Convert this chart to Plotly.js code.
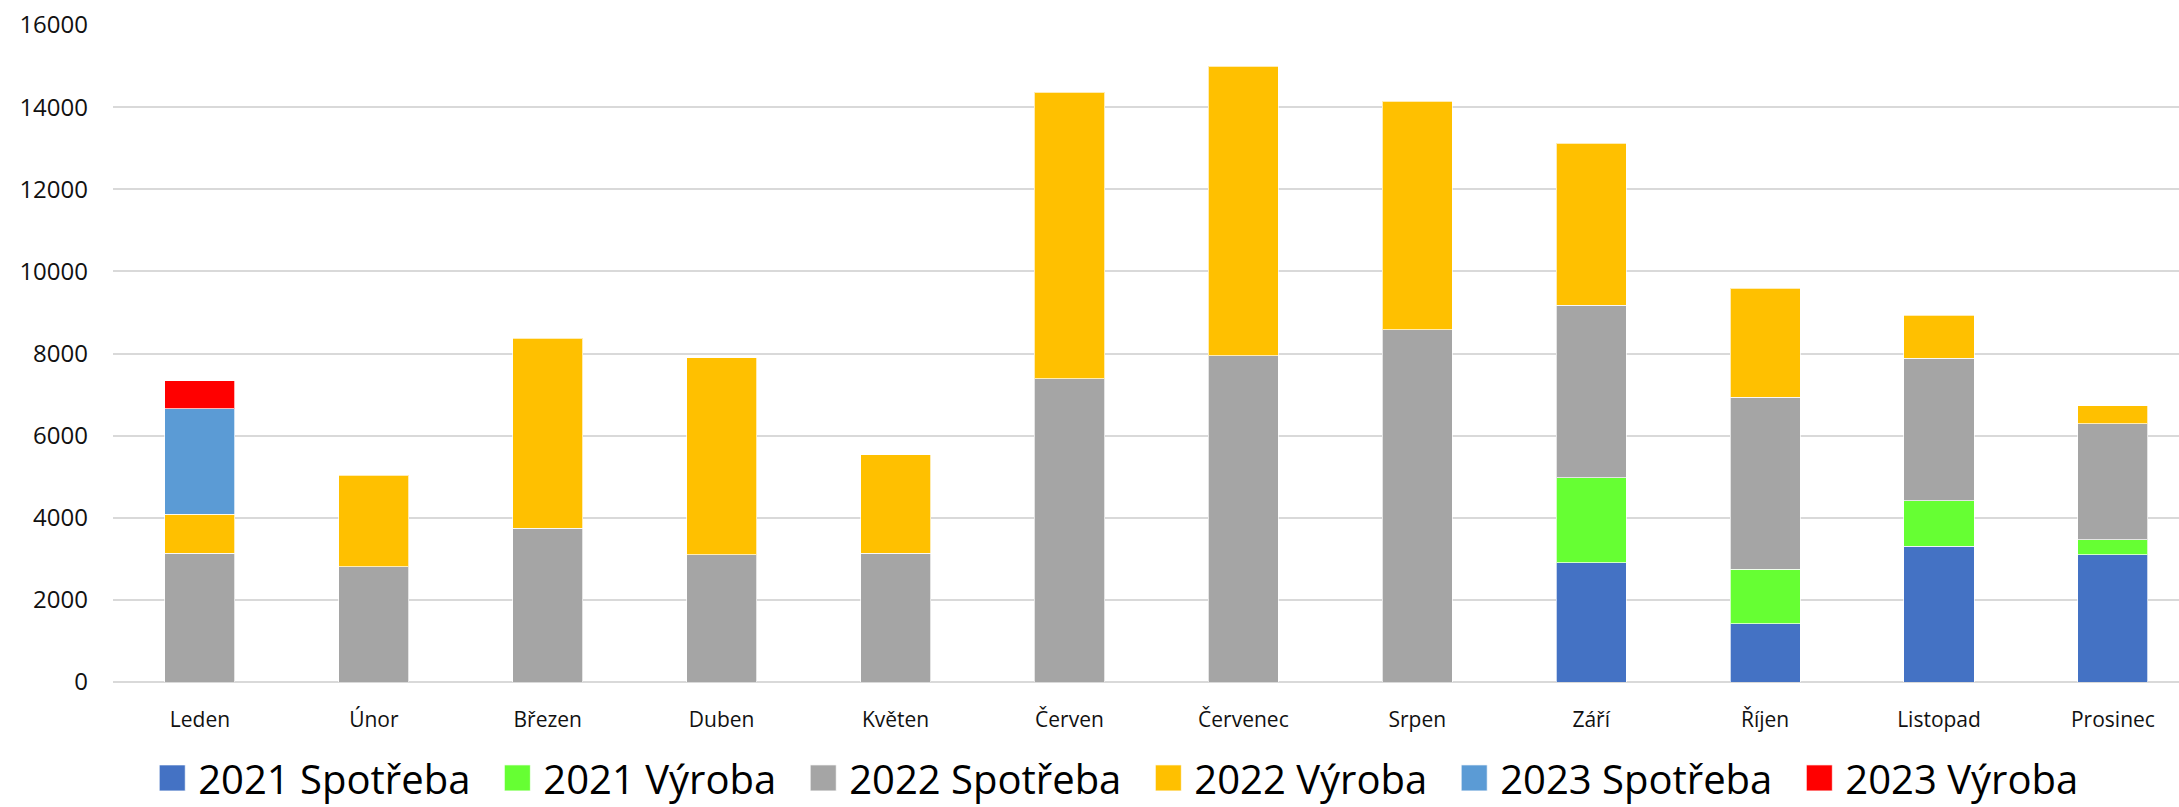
<!DOCTYPE html>
<html>
<head>
<meta charset="utf-8">
<script src="https://cdn.plot.ly/plotly-3.0.1.min.js"></script>
<style>
  html, body { margin: 0; padding: 0; background: #fff; }
  #chart { width: 2179px; height: 807px; }
</style>
</head>
<body>
<div id="chart"></div>
<script>
const months = ["Leden", "Únor", "Březen", "Duben", "Květen", "Červen", "Červenec", "Srpen", "Září", "Říjen", "Listopad", "Prosinec"];

const spotreba2021 = [null, null, null, null, null, null, null, null, 2900, 1420, 3310, 3100];
const vyroba2021   = [null, null, null, null, null, null, null, null, 2070, 1330, 1100, 365];
const spotreba2022 = [3140, 2810, 3750, 3100, 3130, 7380, 7950, 8580, 4200, 4190, 3480, 2820];
const vyroba2022   = [940, 2225, 4620, 4800, 2405, 6980, 7040, 5560, 3950, 2645, 1045, 440];
const spotreba2023 = [2580, null, null, null, null, null, null, null, null, null, null, null];
const vyroba2023   = [680, null, null, null, null, null, null, null, null, null, null, null];

const seriesNames = ["2021 Spotřeba", "2021 Výroba", "2022 Spotřeba", "2022 Výroba", "2023 Spotřeba", "2023 Výroba"];
const seriesValues = [spotreba2021, vyroba2021, spotreba2022, vyroba2022, spotreba2023, vyroba2023];
const seriesColors = ["#4472C4", "#66FF33", "#A5A5A5", "#FFC000", "#5B9BD5", "#FF0000"];

const yTicks = [0, 2000, 4000, 6000, 8000, 10000, 12000, 14000, 16000];

const traces = seriesNames.map((name, i) => ({
  type: "bar",
  name: name,
  x: months,
  y: seriesValues[i],
  marker: { color: seriesColors[i], line: { color: "rgba(255,255,255,0.7)", width: 1 } },
  hoverinfo: "x+y+name"
}));

const layout = {
  width: 2179,
  height: 807,
  barmode: "stack",
  bargap: 0.597,
  paper_bgcolor: "#ffffff",
  plot_bgcolor: "#ffffff",
  font: { family: "Open Sans, sans-serif", color: "#111111" },
  margin: { l: 113, r: 0, t: 25, b: 125, autoexpand: false },
  xaxis: {
    type: "category",
    range: [-0.5, 11.38],
    showgrid: false,
    showline: false,
    zeroline: false,
    ticks: "",
    ticklabelstandoff: 23,
    tickfont: { size: 21, family: "Open Sans, sans-serif", color: "#111111" }
  },
  yaxis: {
    range: [0, 16000],
    tickvals: yTicks,
    ticktext: yTicks.map(String),
    showgrid: true,
    gridcolor: "#d9d9d9",
    gridwidth: 1.5,
    zeroline: true,
    zerolinecolor: "#d9d9d9",
    zerolinewidth: 1.5,
    showline: false,
    ticks: "",
    ticklabelstandoff: 24,
    tickfont: { size: 24, family: "Open Sans, sans-serif", color: "#111111" }
  },
  showlegend: true,
  legend: {
    orientation: "h",
    x: 0.481,
    xanchor: "center",
    y: -0.146,
    yanchor: "middle",
    traceorder: "normal",
    itemwidth: 58,
    font: { size: 40, family: "Open Sans, sans-serif", color: "#000000" },
    itemclick: false,
    itemdoubleclick: false
  }
};

Plotly.newPlot("chart", traces, layout, { displayModeBar: false }).then(gd => {
  gd.querySelectorAll(".legend .legendpoints path").forEach(p => {
    p.setAttribute("d", "M21,13H-5V-13H21Z");
  });
});
</script>
</body>
</html>
